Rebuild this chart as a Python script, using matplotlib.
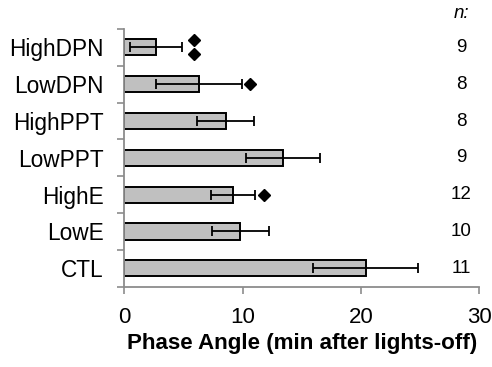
import numpy as np
import matplotlib.pyplot as plt

plt.rcParams['font.family'] = ['Liberation Sans', 'DejaVu Sans']

groups = ["HighDPN", "LowDPN", "HighPPT", "LowPPT", "HighE", "LowE", "CTL"]
phase = [2.7, 6.3, 8.55, 13.4, 9.2, 9.8, 20.4]
sem = [2.2, 3.6, 2.4, 3.1, 1.85, 2.4, 4.45]
n_vals = [9, 8, 8, 9, 12, 10, 11]
# significance diamonds: (group index, x position, y offset)
sig_marks = [(0, 5.9, -0.19), (0, 5.9, 0.19), (1, 10.6, 0.0), (4, 11.8, 0.0)]

fig = plt.figure(figsize=(4.92, 3.67), dpi=100)
ax = fig.add_axes([0.253, 0.219, 0.721, 0.702])

y = np.arange(len(groups))
ax.barh(y, phase, height=0.44, color="#c0c0c0", edgecolor="black", linewidth=1.4, zorder=2)
ax.errorbar(phase, y, xerr=sem, fmt="none", ecolor="black", elinewidth=1.3,
            capsize=3.3, capthick=1.3, zorder=3)

for i, xs, dy in sig_marks:
    ax.plot(xs, y[i] + dy, marker="D", color="black", markersize=6, clip_on=False, zorder=4)

ax.set_xlim(0, 30)
ax.set_ylim(len(groups) - 0.5, -0.5)
ax.set_xticks([0, 10, 20, 30])
ax.set_yticks(y)
ax.set_yticklabels(groups)
ax.set_yticks(np.arange(-0.5, len(groups), 1.0), minor=True)
ax.tick_params(axis="y", which="major", length=0, pad=15, labelsize=16.3)
ax.tick_params(axis="y", which="minor", length=5, width=1.2, color="#8c8c8c")
ax.tick_params(axis="x", length=5, width=1.2, color="#8c8c8c", pad=10, labelsize=16)

for s in ["top", "right"]:
    ax.spines[s].set_visible(False)
for s in ["left", "bottom"]:
    ax.spines[s].set_color("#8c8c8c")
    ax.spines[s].set_linewidth(1.3)

ax.set_xlabel("Phase Angle (min after lights-off)", fontsize=16.1, fontweight="bold", labelpad=3)

ax.text(28.5, -0.93, "n:", fontsize=13.5, style="italic", ha="center", va="center",
        clip_on=False)
for i, n in enumerate(n_vals):
    ax.text(28.5, y[i], str(n), fontsize=13.5, ha="center", va="center", clip_on=False)

fig.savefig("out.png", dpi=100)
